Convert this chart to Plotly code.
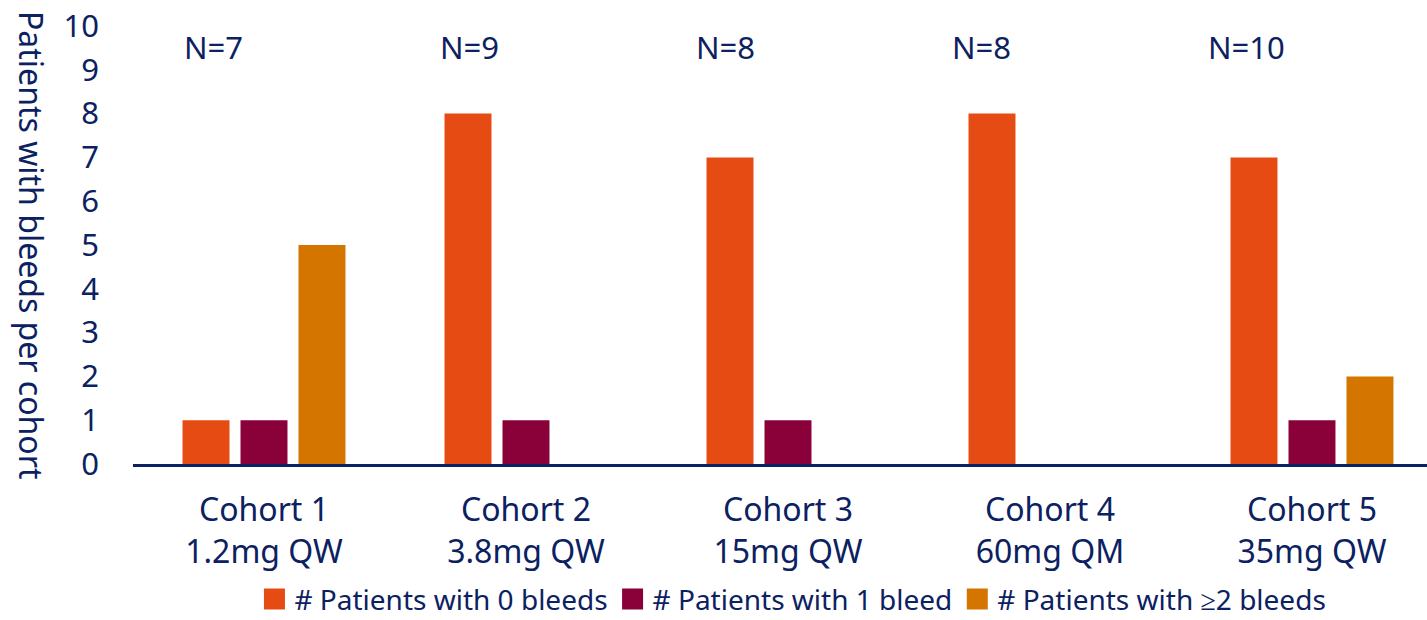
import plotly.graph_objects as go

cohorts = ["Cohort 1<br>1.2mg QW", "Cohort 2<br>3.8mg QW", "Cohort 3<br>15mg QW",
           "Cohort 4<br>60mg QM", "Cohort 5<br>35mg QW"]
n_labels = ["N=7", "N=9", "N=8", "N=8", "N=10"]
series_names = ["# Patients with 0 bleeds", "# Patients with 1 bleed", "# Patients with ≥2 bleeds"]
zero_bleeds = [1, 8, 7, 8, 7]
one_bleed = [1, 1, 1, 0, 1]
two_plus = [5, 0, 0, 0, 2]
y_title = "Patients with bleeds per cohort"
colors = ["#E54B13", "#8A0038", "#D47500"]

NAVY = "#0B2161"
FONT = "Noto Sans"

x = list(range(len(cohorts)))
fig = go.Figure()
for name, vals, col in zip(series_names, [zero_bleeds, one_bleed, two_plus], colors):
    fig.add_trace(go.Bar(x=x, y=vals, name=name, showlegend=False,
                         marker=dict(color=col, line=dict(width=0))))
# legend entries with larger square swatches
for name, col in zip(series_names, colors):
    fig.add_trace(go.Scatter(x=[None], y=[None], mode="markers", name=name,
                             marker=dict(symbol="square", size=16, color=col,
                                         line=dict(color=col, width=5))))

for i, t in enumerate(n_labels):
    fig.add_annotation(x=i - 0.313 - 0.0225 * i, y=9.53, text=t, showarrow=False,
                       xanchor="left", yanchor="middle",
                       font=dict(family=FONT, size=31, color=NAVY))

fig.add_annotation(xref="paper", yref="paper", x=0, y=0.5, xshift=-101, text=y_title,
                   textangle=90, showarrow=False, xanchor="center", yanchor="middle",
                   font=dict(family=FONT, size=32, color=NAVY))

fig.update_layout(
    width=1427, height=620,
    margin=dict(l=133, r=0, t=26, b=156, autoexpand=False),
    paper_bgcolor="white", plot_bgcolor="white",
    barmode="group", bargap=0.336, bargroupgap=0.19,
    font=dict(family=FONT, color=NAVY, size=28),
    showlegend=True,
    legend=dict(orientation="h", x=0.51, xanchor="center", y=-0.366, yanchor="bottom",
                font=dict(family=FONT, size=28, color=NAVY), traceorder="normal",
                itemwidth=30, tracegroupgap=0),
    xaxis=dict(tickmode="array", tickvals=x, ticktext=cohorts, range=[-0.5, 4.439],
               automargin=False, showline=True, linecolor=NAVY, linewidth=3,
               showgrid=False, zeroline=False, ticks="", ticklabelstandoff=16,
               tickfont=dict(family=FONT, size=32, color=NAVY)),
    yaxis=dict(range=[0, 10], tickmode="linear", dtick=1, automargin=False,
               showline=False, showgrid=False, zeroline=False, ticks="",
               ticklabelstandoff=33, tickfont=dict(family=FONT, size=31, color=NAVY)),
)

fig.write_html("out.html", config={"displayModeBar": False},
               post_script="document.body.style.margin='0';")
